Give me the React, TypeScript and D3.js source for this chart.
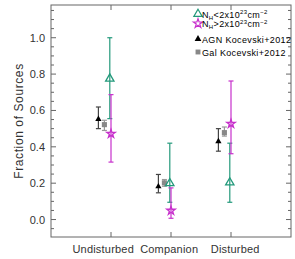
import React, { useEffect, useRef } from 'react';
import * as d3 from 'd3';

// categories and measured fractions (value, lower bound, upper bound)
const categories = ['Undisturbed', 'Companion', 'Disturbed'];

const lowNH = [0.78, 0.205, 0.209];
const lowNHLo = [0.555, 0.095, 0.095];
const lowNHHi = [1.0, 0.42, 0.42];

const highNH = [0.472, 0.049, 0.527];
const highNHLo = [0.316, 0.007, 0.362];
const highNHHi = [0.687, 0.174, 0.762];

const agnK12 = [0.558, 0.187, 0.435];
const agnK12Lo = [0.5, 0.147, 0.376];
const agnK12Hi = [0.619, 0.248, 0.5];

const galK12 = [0.522, 0.202, 0.478];
const galK12Lo = [0.49, 0.183, 0.459];
const galK12Hi = [0.546, 0.22, 0.509];

const yTicks = [0, 0.2, 0.4, 0.6, 0.8, 1.0];

const App: React.FC = () => {
  const svgRef = useRef<SVGSVGElement>(null);

  useEffect(() => {
    if (!svgRef.current) return;
    d3.select(svgRef.current).selectAll('*').remove();

    const width = 295;
    const height = 259;
    const left = 51, right = 291, top = 5, bottom = 237;
    const frameColor = '#666';
    const textColor = '#333';
    const green = '#23997b';
    const magenta = '#c730cc';
    const font = '"Liberation Sans", Arial, sans-serif';

    const svg = d3.select(svgRef.current)
      .attr('width', width)
      .attr('height', height)
      .style('position', 'absolute')
      .style('left', 0)
      .style('top', 0);

    const x = d3.scaleLinear().domain([0, 4]).range([left, right]);
    const y = d3.scaleLinear().domain([-0.096, 1.18]).range([bottom, top]);

    // frame
    svg.append('rect')
      .attr('x', left).attr('y', top)
      .attr('width', right - left).attr('height', bottom - top)
      .attr('fill', 'none').attr('stroke', frameColor).attr('stroke-width', 1);

    // y ticks (major + minor) on both sides
    const minor = d3.range(-0.05, 1.18, 0.05).map(v => +v.toFixed(2));
    minor.forEach(v => {
      const isMajor = Math.abs(Math.round(v * 5) - v * 5) < 1e-6;
      const len = isMajor ? 5 : 3;
      svg.append('line')
        .attr('x1', left).attr('x2', left + len)
        .attr('y1', y(v)).attr('y2', y(v))
        .attr('stroke', frameColor);
      svg.append('line')
        .attr('x1', right).attr('x2', right - len)
        .attr('y1', y(v)).attr('y2', y(v))
        .attr('stroke', frameColor);
    });

    yTicks.forEach(v => {
      svg.append('text')
        .attr('x', left - 6).attr('y', y(v) + 4)
        .attr('text-anchor', 'end')
        .attr('font-family', font).attr('font-size', 11)
        .attr('fill', textColor)
        .text(v.toFixed(1));
    });

    // x ticks top and bottom
    categories.forEach((_, i) => {
      svg.append('line')
        .attr('x1', x(i + 1)).attr('x2', x(i + 1))
        .attr('y1', bottom).attr('y2', bottom - 5)
        .attr('stroke', frameColor);
      svg.append('line')
        .attr('x1', x(i + 1)).attr('x2', x(i + 1))
        .attr('y1', top).attr('y2', top + 5)
        .attr('stroke', frameColor);
    });

    // category labels are spread a bit wider than the ticks
    const labelX = d3.scalePoint<string>().domain(categories).range([x(0.87), x(3.07)]);
    categories.forEach(c => {
      svg.append('text')
        .attr('x', labelX(c)!).attr('y', 253)
        .attr('text-anchor', 'middle')
        .attr('font-family', font).attr('font-size', 11)
        .attr('letter-spacing', 0.2)
        .attr('fill', textColor)
        .text(c);
    });

    // y axis title
    svg.append('text')
      .attr('transform', `translate(23,${(top + bottom) / 2}) rotate(-90)`)
      .attr('text-anchor', 'middle')
      .attr('font-family', font).attr('font-size', 12)
      .attr('letter-spacing', 0.6)
      .attr('fill', textColor)
      .text('Fraction of Sources');

    const series = [
      { vals: agnK12, lo: agnK12Lo, hi: agnK12Hi, dx: -0.21, bar: '#444', cap: 5,
        sym: d3.symbolTriangle, size: 17, fill: '#000', stroke: 'none' },
      { vals: galK12, lo: galK12Lo, hi: galK12Hi, dx: -0.11, bar: '#999', cap: 5,
        sym: d3.symbolSquare, size: 26, fill: '#888', stroke: 'none' },
      { vals: lowNH, lo: lowNHLo, hi: lowNHHi, dx: -0.02, bar: green, cap: 5,
        sym: d3.symbolTriangle, size: 30, fill: 'none', stroke: green },
      { vals: highNH, lo: highNHLo, hi: highNHHi, dx: 0, bar: magenta, cap: 5,
        sym: d3.symbolStar, size: 22, fill: 'none', stroke: magenta },
    ];

    series.forEach(s => {
      s.vals.forEach((v, i) => {
        const cx = x(i + 1 + s.dx);
        svg.append('line')
          .attr('x1', cx).attr('x2', cx)
          .attr('y1', y(s.lo[i])).attr('y2', y(s.hi[i]))
          .attr('stroke', s.bar).attr('stroke-width', 1.2);
        [s.lo[i], s.hi[i]].forEach(e => {
          svg.append('line')
            .attr('x1', cx - s.cap / 2).attr('x2', cx + s.cap / 2)
            .attr('y1', y(e)).attr('y2', y(e))
            .attr('stroke', s.bar).attr('stroke-width', 1.2);
        });
        svg.append('path')
          .attr('d', d3.symbol().type(s.sym).size(s.size)()!)
          .attr('transform', `translate(${cx},${y(v) + (s.sym === d3.symbolTriangle ? 1 : 0)})`)
          .attr('fill', s.fill === 'none' ? 'white' : s.fill)
          .attr('fill-opacity', s.fill === 'none' ? 0 : 1)
          .attr('stroke', s.stroke === 'none' ? null : s.stroke)
          .attr('stroke-width', 1.3);
      });
    });

    // legend
    const legX = 198;
    const legend = [
      { yPos: 14, sym: d3.symbolTriangle, size: 30, fill: 'none', stroke: green, kind: 'lt' },
      { yPos: 23.5, sym: d3.symbolStar, size: 26, fill: 'none', stroke: magenta, kind: 'gt' },
      { yPos: 39, sym: d3.symbolTriangle, size: 20, fill: '#000', stroke: 'none', kind: 'AGN Kocevski+2012' },
      { yPos: 52, sym: d3.symbolSquare, size: 24, fill: '#888', stroke: 'none', kind: 'Gal Kocevski+2012' },
    ];
    legend.forEach(l => {
      svg.append('path')
        .attr('d', d3.symbol().type(l.sym).size(l.size)()!)
        .attr('transform', `translate(${legX},${l.yPos})`)
        .attr('fill', l.fill === 'none' ? 'white' : l.fill)
        .attr('fill-opacity', l.fill === 'none' ? 0 : 1)
        .attr('stroke', l.stroke === 'none' ? null : l.stroke)
        .attr('stroke-width', 1.2);
      const t = svg.append('text')
        .attr('x', legX + 4).attr('y', l.yPos + 3.5)
        .attr('font-family', font).attr('font-size', 9)
        .attr('letter-spacing', 0.35)
        .attr('fill', '#000');
      if (l.kind === 'lt' || l.kind === 'gt') {
        t.append('tspan').text('N');
        t.append('tspan').attr('font-size', 6).attr('dy', 2).text('H');
        t.append('tspan').attr('dy', -2).text(l.kind === 'lt' ? '<2x10' : '>2x10');
        t.append('tspan').attr('font-size', 6).attr('dy', -3.5).text('23');
        t.append('tspan').attr('dy', 3.5).text('cm');
        t.append('tspan').attr('font-size', 6).attr('dy', -3.5).text('−2');
      } else {
        t.text(l.kind);
      }
    });
  }, []);

  return (
    <div>
      <svg ref={svgRef}></svg>
    </div>
  );
};

export default App;
